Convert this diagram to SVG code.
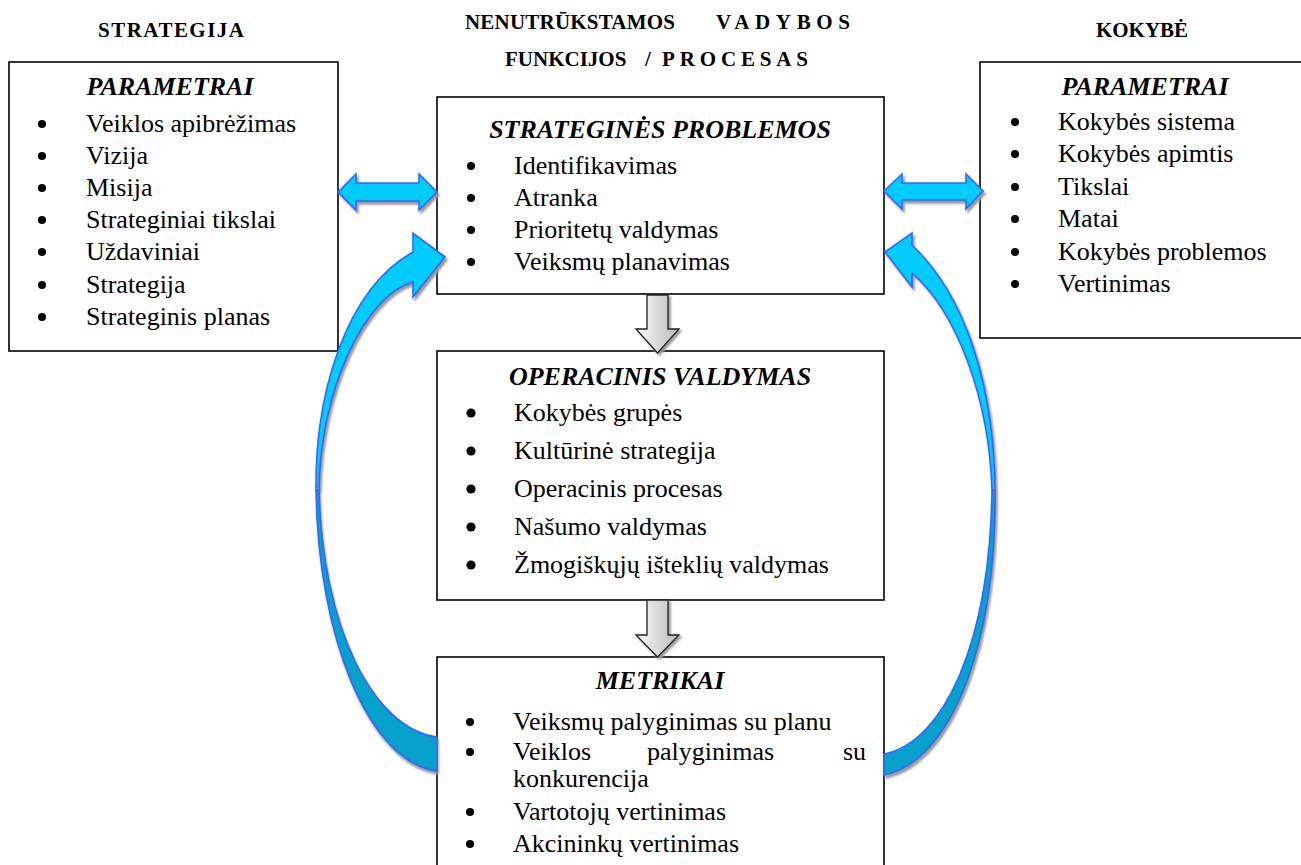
<svg xmlns="http://www.w3.org/2000/svg" width="1301" height="865" viewBox="0 0 1301 865">
  <defs>
    <style>
      text { font-family: 'Liberation Serif', 'Times New Roman', serif; fill: #000; }
      .hdr { font-size: 21px; font-weight: bold; }
      .ttl { font-size: 26px; font-weight: bold; font-style: italic; text-anchor: middle; }
      .itm { font-size: 26px; }
      .box { fill: #fff; stroke: #000; stroke-width: 1.6; }
      .dot { fill: #000; }
      .blue { fill: #00CCFF; stroke: #3366FF; stroke-width: 1.6; stroke-linejoin: miter; }
      .blue-dark { fill: #06A2CC; stroke: #3366FF; stroke-width: 1.6; }
      .shadow { fill: #9a9a9a; stroke: #9a9a9a; stroke-width: 1.6; }
      .gray-arrow { fill: url(#grayGrad); stroke: #222; stroke-width: 1.3; }
    </style>
    <linearGradient id="grayGrad" x1="0" y1="0" x2="1" y2="0">
      <stop offset="0" stop-color="#fbfbfb"/>
      <stop offset="1" stop-color="#b9b9b9"/>
    </linearGradient>
    <filter id="softShadow" x="-30%" y="-30%" width="160%" height="160%">
      <feGaussianBlur stdDeviation="1.2"/>
    </filter>
    <!-- shapes reused for shadows -->
    <path id="dblLeft" d="M338,192 L356,174 L356,183 L419,183 L419,174 L437,192 L419,210 L419,201 L356,201 L356,210 Z"/>
    <path id="dblRight" d="M884,191 L902,174 L902,183 L966,183 L966,174 L983,191 L966,209 L966,200 L902,200 L902,209 Z"/>
    <path id="curveLeftTop" d="M316,490 C315,395 345,290 413,252 L413,233 L445,257 L413,297 L413,282 C365,295 320,390 319,490 Z"/>
    <path id="curveLeftBottom" d="M316,490 C318,640 370,762 437,771 L437,737 C372,728 322,625 319,490 Z"/>
    <path id="curveRightTop" d="M995,490 C994,385 965,295 912,245 L912,233 L885,252 L912,287 L912,273 C955,310 989,395 992,490 Z"/>
    <path id="curveRightBottom" d="M995,490 C997,645 950,762 884,775 L884,754 C945,742 990,640 992,490 Z"/>
    <path id="downArrow1" d="M647,295 L668,295 L668,329 L679,329 L657.5,353 L636,329 L647,329 Z"/>
    <path id="downArrow2" d="M647,600 L668,600 L668,635 L679,635 L657.5,657 L636,635 L647,635 Z"/>
  </defs>

  <rect width="1301" height="865" fill="#fff"/>

  <!-- column headings -->
  <g id="headings">
    <text class="hdr" x="98" y="37" textLength="146" lengthAdjust="spacing">STRATEGIJA</text>
    <text class="hdr" y="29"><tspan x="465" textLength="210" lengthAdjust="spacing">NENUTRŪKSTAMOS</tspan><tspan x="716" textLength="134" lengthAdjust="spacing">VADYBOS</tspan></text>
    <text class="hdr" y="66"><tspan x="505">FUNKCIJOS</tspan><tspan x="645">/</tspan><tspan x="662" textLength="146" lengthAdjust="spacing">PROCESAS</tspan></text>
    <text class="hdr" x="1142" y="37" text-anchor="middle">KOKYBĖ</text>
  </g>

  <!-- strategy parameters -->
  <g id="node-strategy">
    <rect class="box" x="9" y="62" width="329" height="289"/>
    <text class="ttl" x="170" y="95">PARAMETRAI</text>
    <g class="dot">
      <circle cx="42" cy="124" r="4"/><circle cx="42" cy="156" r="4"/><circle cx="42" cy="188" r="4"/>
      <circle cx="42" cy="220" r="4"/><circle cx="42" cy="252" r="4"/><circle cx="42" cy="285" r="4"/>
      <circle cx="42" cy="317" r="4"/>
    </g>
    <text class="itm" x="86" y="132">Veiklos  apibrėžimas</text>
    <text class="itm" x="86" y="164">Vizija</text>
    <text class="itm" x="86" y="196">Misija</text>
    <text class="itm" x="86" y="228">Strateginiai tikslai</text>
    <text class="itm" x="86" y="260">Uždaviniai</text>
    <text class="itm" x="86" y="293">Strategija</text>
    <text class="itm" x="86" y="325">Strateginis planas</text>
  </g>

  <!-- quality parameters -->
  <g id="node-quality">
    <rect class="box" x="980" y="62" width="330" height="276"/>
    <text class="ttl" x="1145" y="95">PARAMETRAI</text>
    <g class="dot">
      <circle cx="1015" cy="122" r="4"/><circle cx="1015" cy="154" r="4"/><circle cx="1015" cy="187" r="4"/>
      <circle cx="1015" cy="219" r="4"/><circle cx="1015" cy="252" r="4"/><circle cx="1015" cy="284" r="4"/>
    </g>
    <text class="itm" x="1058" y="130">Kokybės sistema</text>
    <text class="itm" x="1058" y="162">Kokybės apimtis</text>
    <text class="itm" x="1058" y="195">Tikslai</text>
    <text class="itm" x="1058" y="227">Matai</text>
    <text class="itm" x="1058" y="260">Kokybės problemos</text>
    <text class="itm" x="1058" y="292">Vertinimas</text>
  </g>

  <!-- strategic problems -->
  <g id="node-problems">
    <rect class="box" x="437" y="97" width="447" height="197"/>
    <text class="ttl" x="660" y="138">STRATEGINĖS PROBLEMOS</text>
    <g class="dot">
      <circle cx="471" cy="166" r="4"/><circle cx="471" cy="198" r="4"/>
      <circle cx="471" cy="230" r="4"/><circle cx="471" cy="262" r="4"/>
    </g>
    <text class="itm" x="514" y="174">Identifikavimas</text>
    <text class="itm" x="514" y="206">Atranka</text>
    <text class="itm" x="514" y="238">Prioritetų valdymas</text>
    <text class="itm" x="514" y="270">Veiksmų planavimas</text>
  </g>

  <!-- operational management -->
  <g id="node-operations">
    <rect class="box" x="437" y="351" width="447" height="249"/>
    <text class="ttl" x="660" y="385">OPERACINIS VALDYMAS</text>
    <g class="dot">
      <circle cx="471" cy="413" r="4.6"/><circle cx="471" cy="451" r="4.6"/><circle cx="471" cy="489" r="4.6"/>
      <circle cx="471" cy="527" r="4.6"/><circle cx="471" cy="565" r="4.6"/>
    </g>
    <text class="itm" x="514" y="421">Kokybės grupės</text>
    <text class="itm" x="514" y="459">Kultūrinė strategija</text>
    <text class="itm" x="514" y="497">Operacinis procesas</text>
    <text class="itm" x="514" y="535">Našumo valdymas</text>
    <text class="itm" x="514" y="573">Žmogiškųjų išteklių valdymas</text>
  </g>

  <!-- metrics -->
  <g id="node-metrics">
    <rect class="box" x="437" y="657" width="447" height="220"/>
    <text class="ttl" x="660" y="689">METRIKAI</text>
    <g class="dot">
      <circle cx="470" cy="722" r="4"/><circle cx="470" cy="752" r="4"/>
      <circle cx="470" cy="812" r="4"/><circle cx="470" cy="844" r="4"/>
    </g>
    <text class="itm" x="513" y="730">Veiksmų  palyginimas su planu</text>
    <text class="itm" y="760"><tspan x="513">Veiklos</tspan><tspan x="647">palyginimas</tspan><tspan x="843">su</tspan></text>
    <text class="itm" x="513" y="787">konkurencija</text>
    <text class="itm" x="513" y="820">Vartotojų vertinimas</text>
    <text class="itm" x="513" y="852">Akcininkų vertinimas</text>
  </g>

  <!-- connectors -->
  <g id="connectors">
    <!-- shadows -->
    <g class="shadow" filter="url(#softShadow)">
      <use href="#dblLeft" transform="translate(2,3)"/>
      <use href="#dblRight" transform="translate(2,3)"/>
      <use href="#curveLeftTop" transform="translate(2,3)"/>
      <use href="#curveLeftBottom" transform="translate(1,3)"/>
      <use href="#curveRightTop" transform="translate(2,3)"/>
      <use href="#curveRightBottom" transform="translate(2,3)"/>
      <use href="#downArrow1" transform="translate(2,2)"/>
      <use href="#downArrow2" transform="translate(2,2)"/>
    </g>
    <!-- vertical flow between the central stages -->
    <use href="#downArrow1" class="gray-arrow"/>
    <use href="#downArrow2" class="gray-arrow"/>
    <!-- two-way links to the side parameter blocks -->
    <use href="#dblLeft" class="blue"/>
    <use href="#dblRight" class="blue"/>
    <!-- feedback loops from metrics back to strategic problems -->
    <use href="#curveLeftBottom" class="blue-dark"/>
    <use href="#curveLeftTop" class="blue"/>
    <use href="#curveRightBottom" class="blue-dark"/>
    <use href="#curveRightTop" class="blue"/>
  </g>
</svg>
